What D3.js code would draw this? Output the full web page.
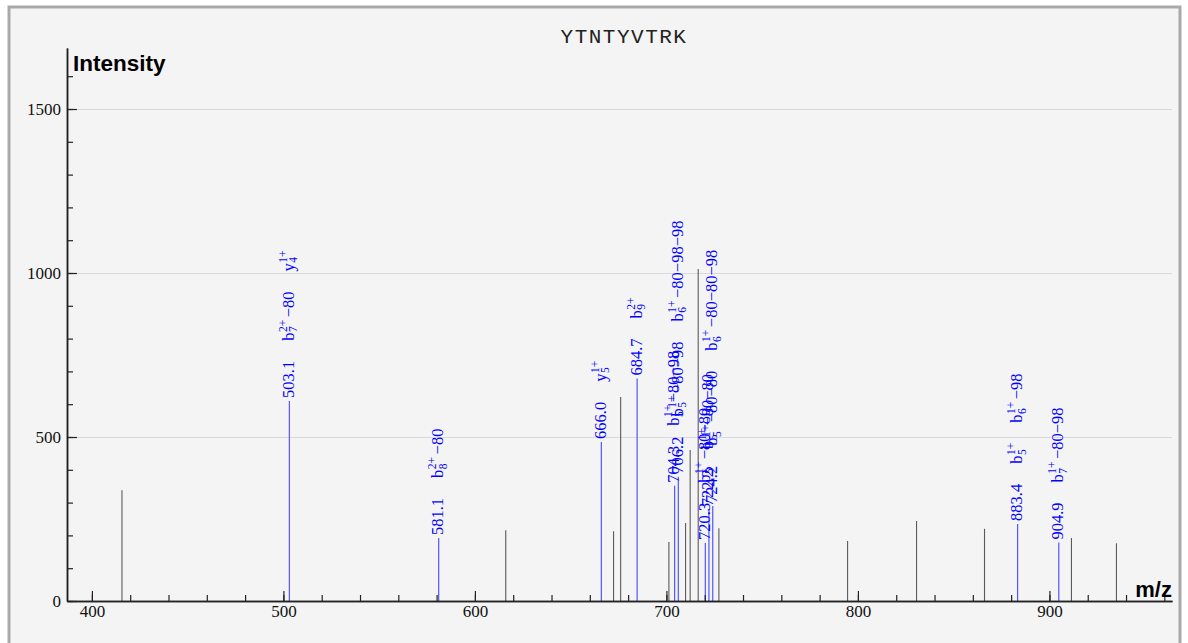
<!DOCTYPE html>
<html lang="en">
<head>
<meta charset="utf-8">
<title>YTNTYVTRK spectrum</title>
<style>
  body { margin: 0; background: white; }
  svg { display: block; }
</style>
<script src="https://d3js.org/d3.v7.min.js"></script>
</head>
<body>
<script>
// unannotated peaks (m/z, intensity)
const grayMz  = [415.7, 616.1, 672.4, 676.1, 701.3, 710.0, 712.4, 716.6, 727.4, 794.6, 830.6, 866.1, 911.5, 935.0]
const grayInt = [338,   216,   213,   622,   180,   238,   460,   1012,  222,   183,   244,   220,   192,   176]

// annotated peaks
const peakMz  = [503.1, 581.1, 666.0, 684.7, 704.3, 706.2, 720.3, 722.2, 724.2, 883.4, 904.9]
const peakInt = [610,   192,   485,   678,   351,   379,   177,   280,   290,   235,   178]
// each annotation: [ion, superscript, subscript, loss]
const peakAnn = [
  [["b", "2+", "7", "−80"], ["y", "1+", "4", ""]],
  [["b", "2+", "8", "−80"]],
  [["y", "1+", "5", ""]],
  [["b", "2+", "9", ""]],
  [["b", "1+", "5", "−80−98"]],
  [["b", "1+", "5", "−80−98"], ["b", "1+", "6", "−80−98−98"]],
  [["b", "1+", "5", "−80−80"]],
  [["b", "1+", "5", "−80−80"]],
  [["b", "1+", "5", "−80−80"], ["b", "1+", "6", "−80−80−98"]],
  [["b", "1+", "5", ""], ["b", "1+", "6", "−98"]],
  [["b", "1+", "7", "−80−98"]]
]

const xMajor = [400, 500, 600, 700, 800, 900]
const xMinor = d3.range(400, 961, 20)
const yMajor = [0, 500, 1000, 1500]
const yMinor = d3.range(0, 1601, 100)

const title = "YTNTYVTRK"

let width = 1188
let height = 643

let svg = d3.select("body").append("svg")
    .attr("width", width)
    .attr("height", height)

// frame
svg.append("rect")
    .attr("x", 9).attr("y", 7)
    .attr("width", 1171).attr("height", 680)
    .attr("fill", "#f4f4f4")
    .attr("stroke", "#a9a9a9")
    .attr("stroke-width", 3)

let x = d3.scaleLinear().domain([387, 964]).range([67, 1172])
let y = d3.scaleLinear().domain([0, 1686]).range([601, 48])

// grid
svg.append("g").selectAll("line")
    .data(yMajor.filter(d => d > 0))
    .enter().append("line")
    .attr("x1", 67).attr("x2", 1172)
    .attr("y1", d => Math.round(y(d)) + 0.5).attr("y2", d => Math.round(y(d)) + 0.5)
    .attr("stroke", "#d9d9d9")

svg.append("text")
    .attr("x", 624).attr("y", 43)
    .attr("text-anchor", "middle")
    .attr("font-family", "Liberation Mono")
    .attr("font-size", 21)
    .attr("letter-spacing", 1.5)
    .attr("fill", "#222")
    .text(title)

// gray peaks
svg.append("g").selectAll("line")
    .data(grayMz)
    .enter().append("line")
    .attr("x1", d => x(d)).attr("x2", d => x(d))
    .attr("y1", y(0)).attr("y2", (d, i) => y(grayInt[i]))
    .attr("stroke", "#5a5a5a")
    .attr("stroke-width", 1.1)

// annotated peaks
let pk = svg.append("g")
pk.selectAll("line")
    .data(peakMz)
    .enter().append("line")
    .attr("x1", d => x(d)).attr("x2", d => x(d))
    .attr("y1", y(0)).attr("y2", (d, i) => y(peakInt[i]))
    .attr("stroke", "#4646ff")
    .attr("stroke-width", 1.1)

let fs = 16.5, small = 11.5, gap = 20, base = 4.5

peakMz.forEach((mz, i) => {
    let g = pk.append("g")
        .attr("transform", `translate(${x(mz)},${y(peakInt[i])}) rotate(-90)`)
        .attr("font-family", "Liberation Serif")
        .attr("fill", "#0000ff")
    let cur = 3
    let lab = g.append("text").attr("x", cur).attr("y", base)
        .attr("font-size", fs).text(mz.toFixed(1))
    cur += lab.node().getComputedTextLength() + gap
    peakAnn[i].forEach(a => {
        let t = g.append("text").attr("x", cur).attr("y", base)
            .attr("font-size", fs).text(a[0])
        cur += t.node().getComputedTextLength() + 0.5
        let sp = g.append("text").attr("x", cur).attr("y", base - 7)
            .attr("font-size", small).text(a[1])
        let sb = g.append("text").attr("x", cur).attr("y", base + 3.5)
            .attr("font-size", small).text(a[2])
        cur += Math.max(sp.node().getComputedTextLength(), sb.node().getComputedTextLength())
        if (a[3]) {
            cur += 2.5
            let l = g.append("text").attr("x", cur).attr("y", base)
                .attr("font-size", fs).text(a[3])
            cur += l.node().getComputedTextLength()
        }
        cur += gap
    })
})

// axes
let styleAxis = g => {
    g.select(".domain").attr("stroke", "#222").attr("stroke-width", 1.5)
    g.selectAll(".tick line").attr("stroke", "#222").attr("stroke-width", 1.2)
    g.selectAll("text").attr("font-family", "Liberation Serif").attr("font-size", 17).attr("fill", "#111")
}

svg.append("g")
    .attr("transform", `translate(0,${y(0)})`)
    .call(d3.axisBottom(x).tickValues(xMinor).tickSizeInner(-6).tickSizeOuter(0).tickFormat(""))
    .call(styleAxis)
svg.append("g")
    .attr("transform", `translate(0,${y(0)})`)
    .call(d3.axisBottom(x).tickValues(xMajor).tickSizeInner(-10).tickSizeOuter(0).tickPadding(4).tickFormat(d3.format("d")))
    .call(styleAxis)

svg.append("g")
    .attr("transform", `translate(${x(387)},0)`)
    .call(d3.axisLeft(y).tickValues(yMinor).tickSizeInner(-6).tickSizeOuter(0).tickFormat(""))
    .call(styleAxis)
svg.append("g")
    .attr("transform", `translate(${x(387)},0)`)
    .call(d3.axisLeft(y).tickValues(yMajor).tickSizeInner(-10).tickSizeOuter(0).tickPadding(6).tickFormat(d3.format("d")))
    .call(styleAxis)

svg.append("text")
    .attr("x", 73).attr("y", 71)
    .attr("font-family", "Liberation Sans").attr("font-weight", "bold")
    .attr("font-size", 22.5).attr("fill", "#000")
    .text("Intensity")

svg.append("text")
    .attr("x", 1172).attr("y", 597)
    .attr("text-anchor", "end")
    .attr("font-family", "Liberation Sans").attr("font-weight", "bold")
    .attr("font-size", 22).attr("fill", "#000")
    .text("m/z")
</script>
</body>
</html>
